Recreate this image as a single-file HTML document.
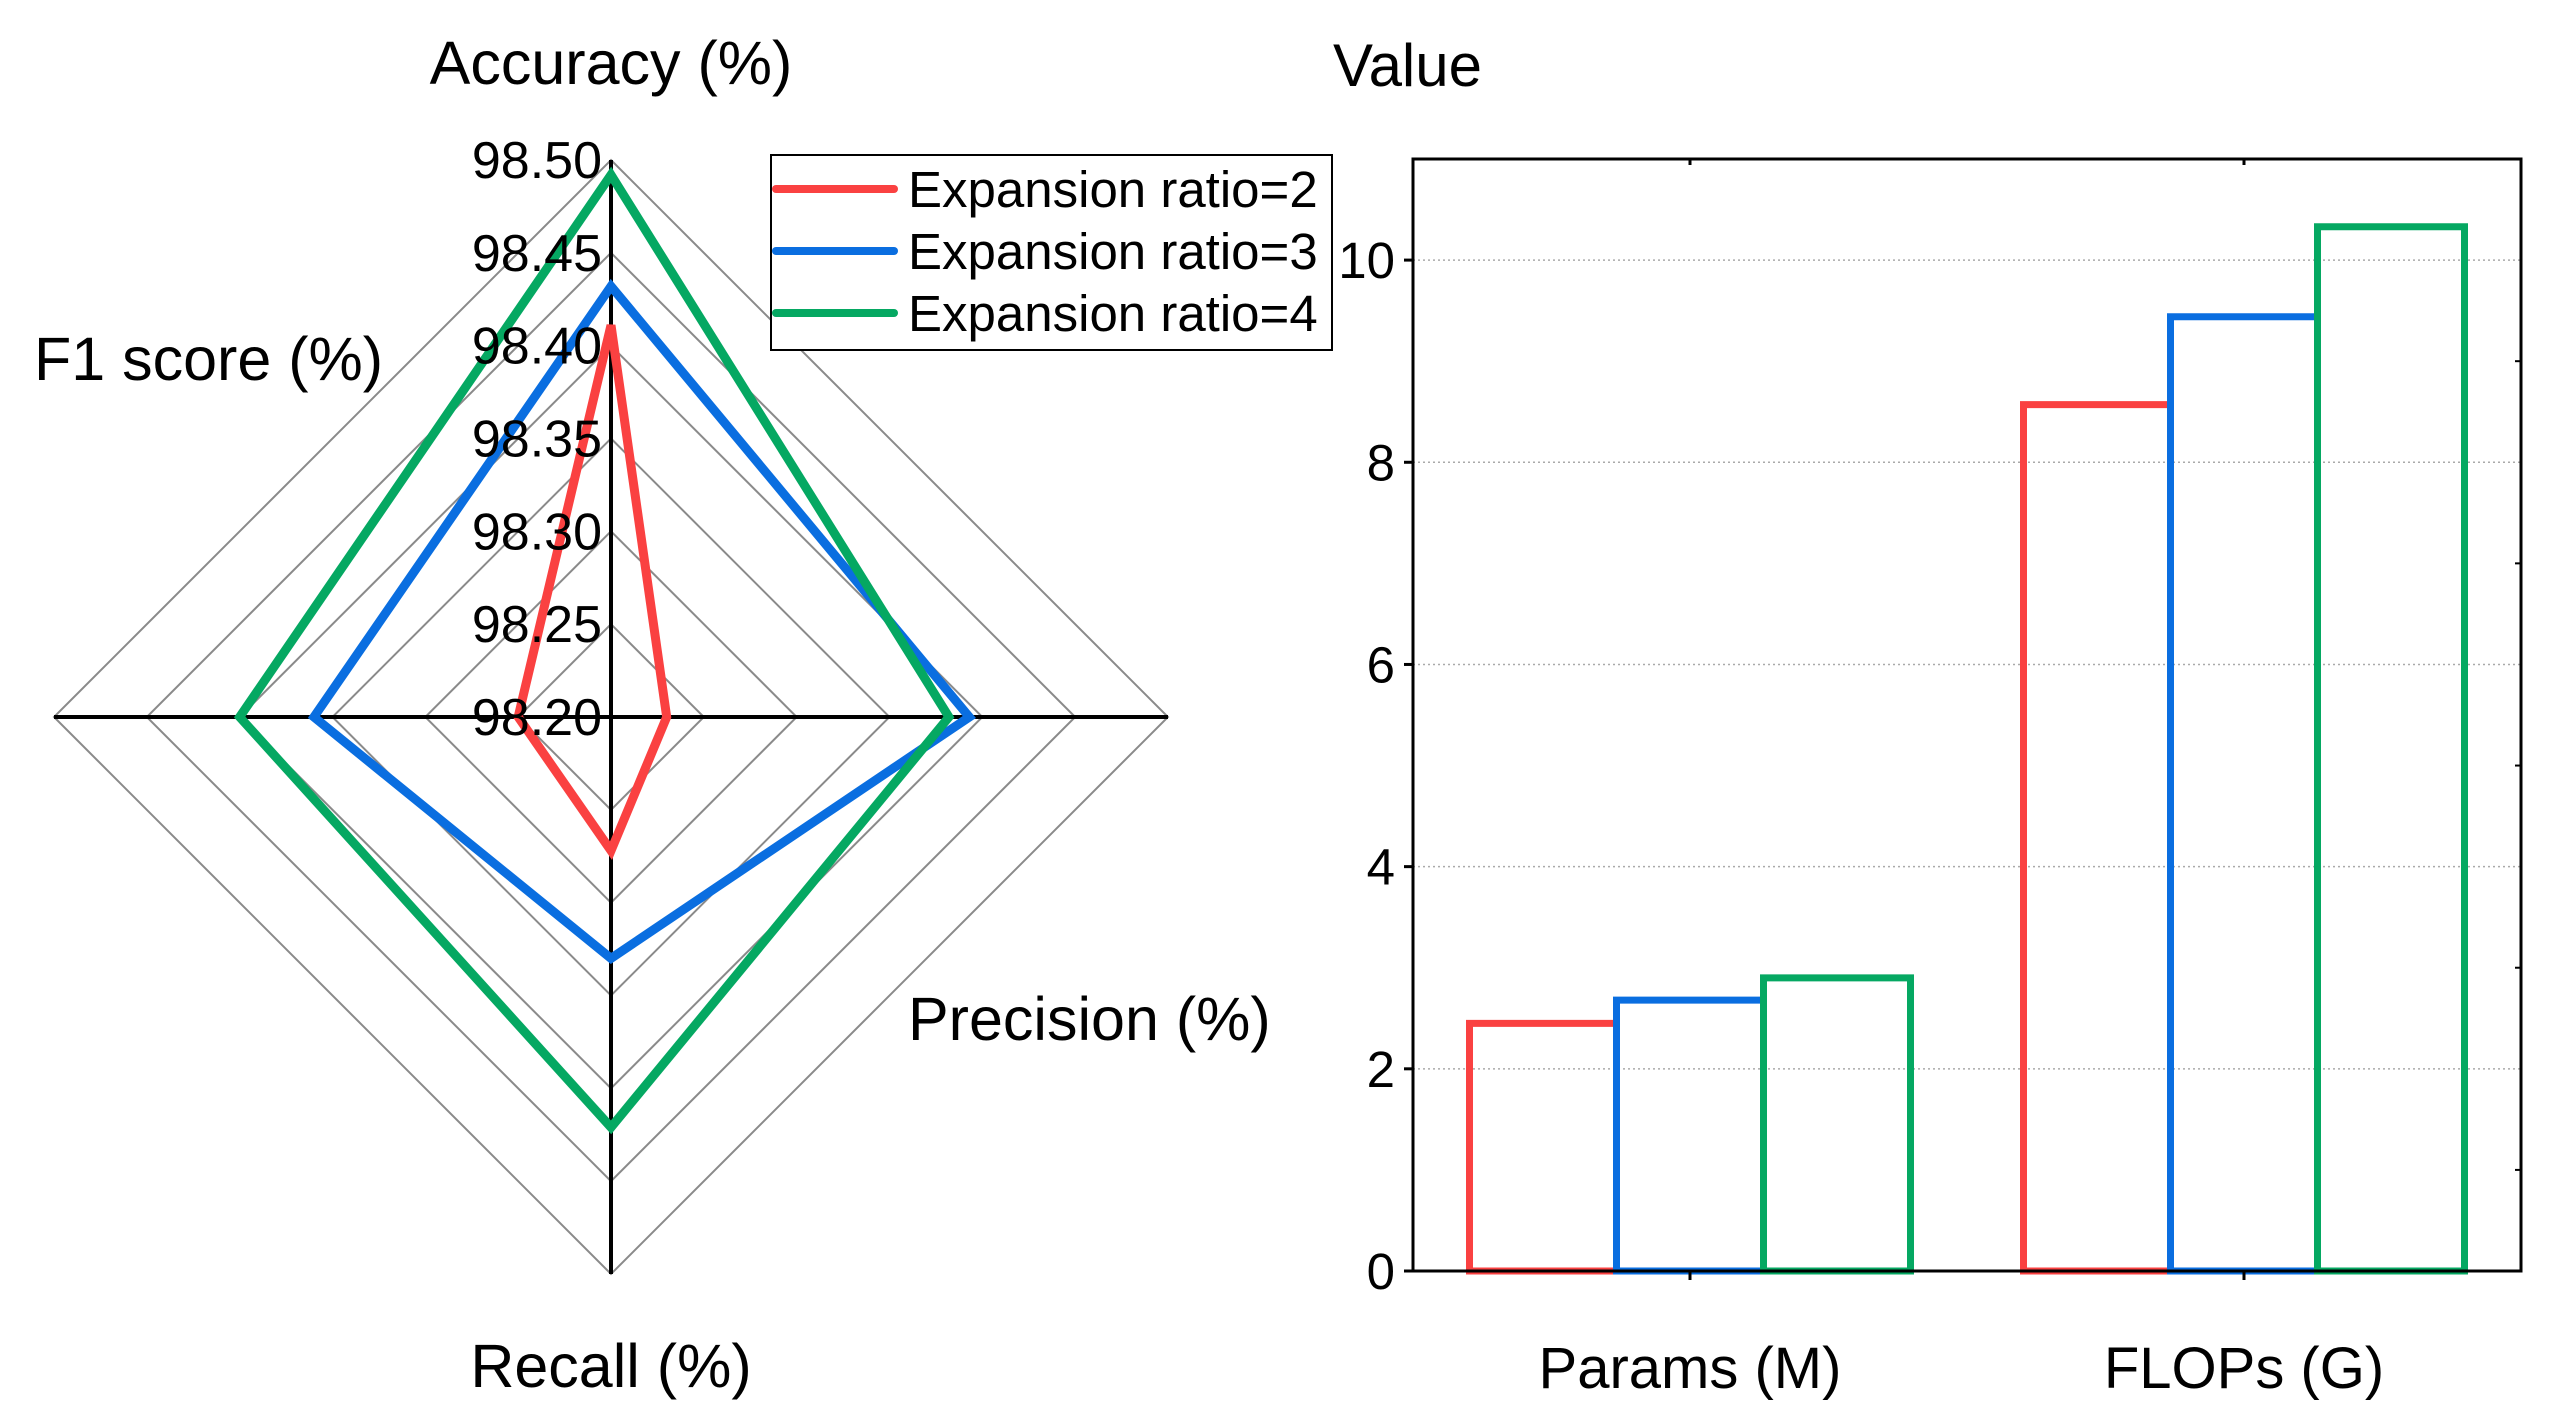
<!DOCTYPE html>
<html><head><meta charset="utf-8"><style>
html,body{margin:0;padding:0;background:#fff;}
svg{display:block;font-family:"Liberation Sans",Arial,sans-serif;}
</style></head><body>
<svg id="chart" width="2565" height="1421" viewBox="0 0 2565 1421" xmlns="http://www.w3.org/2000/svg">
<g id="radar"></g>
<g id="bars"></g>
</svg>
<script>
const radarAxes = ["Accuracy (%)", "Precision (%)", "Recall (%)", "F1 score (%)"];
const radarTicks = ["98.20","98.25","98.30","98.35","98.40","98.45","98.50"];
const seriesNames = ["Expansion ratio=2","Expansion ratio=3","Expansion ratio=4"];
const ratio2 = [98.411, 98.230, 98.272, 98.250];
const ratio3 = [98.432, 98.393, 98.330, 98.360];
const ratio4 = [98.492, 98.382, 98.421, 98.400];
const barCategories = ["Params (M)", "FLOPs (G)"];
const bar2 = [2.45, 8.57];
const bar3 = [2.68, 9.44];
const bar4 = [2.90, 10.33];
const yTicks = [0, 2, 4, 6, 8, 10];

const NS = "http://www.w3.org/2000/svg";
const colors = ["#fa4141", "#0a6ee0", "#05a862"];
function mk(parent, tag, attrs, text){
  const e = document.createElementNS(NS, tag);
  for (const k in attrs) e.setAttribute(k, attrs[k]);
  if (text !== undefined) e.textContent = text;
  parent.appendChild(e); return e;
}
// ---------- radar ----------
const radar = document.getElementById('radar');
const cx = 611, cy = 717, R = 557, rMin = 98.20, rMax = 98.50;
const dirs = [[0,-1],[1,0],[0,1],[-1,0]];
function rr(v){ return (v - rMin) / (rMax - rMin) * R; }
for (let i = 1; i < radarTicks.length; i++) {
  const r = rr(parseFloat(radarTicks[i]));
  const p = dirs.map(d => (cx + d[0]*r) + ',' + (cy + d[1]*r)).join(' ');
  const g = mk(radar, 'polygon', {points: p, fill: 'none', stroke: '#8a8a8a', 'stroke-width': 2});
  
  
}
dirs.forEach(d => {
  const l = mk(radar, 'line', {x1: cx, y1: cy, x2: cx + d[0]*R, y2: cy + d[1]*R, stroke: '#000', 'stroke-width': 4});
  
  
});
[ratio2, ratio3, ratio4].forEach((s, si) => {
  const p = s.map((v, i) => (cx + dirs[i][0]*rr(v)) + ',' + (cy + dirs[i][1]*rr(v))).join(' ');
  const pg = mk(radar, 'polygon', {points: p, fill: 'none', stroke: colors[si], 'stroke-width': 9, 'stroke-linejoin': 'miter'});
  
  
});
radarTicks.forEach(t => {
  const y = cy - rr(parseFloat(t));
  const tx = mk(radar, 'text', {x: 602, y: y + 18, 'font-size': 52, 'text-anchor': 'end', fill: '#000'}, t);
  
  
});
const labPos = [[611, 84, 'middle'], [908, 1040, 'start'], [611, 1387, 'middle'], [34, 380, 'start']];
radarAxes.forEach((a, i) => {
  const tx = mk(radar, 'text', {x: labPos[i][0], y: labPos[i][1], 'font-size': 61, 'text-anchor': labPos[i][2], fill: '#000'}, a);
  
  
});
// legend
const leg = mk(radar, 'g', {});


const lb = mk(leg, 'rect', {x: 771, y: 155, width: 561, height: 195, fill: '#fff', stroke: '#000', 'stroke-width': 2});


seriesNames.forEach((n, i) => {
  const y = 189 + i*62;
  const ln = mk(leg, 'line', {x1: 776, y1: y, x2: 894, y2: y, stroke: colors[i], 'stroke-width': 8, 'stroke-linecap': 'round'});
  
  
  const tx = mk(leg, 'text', {x: 908, y: y + 18, 'font-size': 51, fill: '#000'}, n);
  
  
});
// ---------- bars ----------
const bars = document.getElementById('bars');
const L = 1413, Rt = 2521, T = 159, B = 1271, yMax = 11;
function ys(v){ return B - v / yMax * (B - T); }
function xs(i){ return L + (Rt - L) * (0.25 + 0.5*i); }
yTicks.forEach(t => {
  if (t > 0) {
    const gl = mk(bars, 'line', {x1: L, y1: ys(t), x2: Rt, y2: ys(t), stroke: '#aaa', 'stroke-width': 1.5, 'stroke-dasharray': '2,3'});
    
    
  }
  const tk = mk(bars, 'line', {x1: L - 9, y1: ys(t), x2: L, y2: ys(t), stroke: '#000', 'stroke-width': 3});
  
  
  const tx = mk(bars, 'text', {x: L - 18, y: ys(t) + 18, 'font-size': 51, 'text-anchor': 'end', fill: '#000'}, String(t));
  
  
});
for (let t = 1; t <= 11; t += 2) {
  const mt = mk(bars, 'line', {x1: Rt - 6, y1: ys(t), x2: Rt, y2: ys(t), stroke: '#000', 'stroke-width': 2});
  
  
}
const bw = 147;
barCategories.forEach((c, i) => {
  const x0 = xs(i) - 1.5*bw;
  [bar2, bar3, bar4].forEach((s, si) => {
    const x = x0 + si*bw, y = ys(s[i]);
    const b = mk(bars, 'path', {d: `M${x},${B} L${x},${y} L${x+bw},${y} L${x+bw},${B} Z`, fill: 'none', stroke: colors[si], 'stroke-width': 7});
    
    
  });
  const tx = mk(bars, 'text', {x: xs(i), y: 1388, 'font-size': 58, 'text-anchor': 'middle', fill: '#000'}, c);
  
  
  [B, T].forEach((yy, k) => {
    const tk = mk(bars, 'line', {x1: xs(i), y1: yy, x2: xs(i), y2: k === 0 ? yy + 9 : yy + 6, stroke: '#000', 'stroke-width': 3});
    
    
  });
});
const frame = mk(bars, 'rect', {x: L, y: T, width: Rt - L, height: B - T, fill: 'none', stroke: '#000', 'stroke-width': 3});


const vt = mk(bars, 'text', {x: 1333, y: 86, 'font-size': 60, fill: '#000'}, 'Value');


</script>
</body></html>
